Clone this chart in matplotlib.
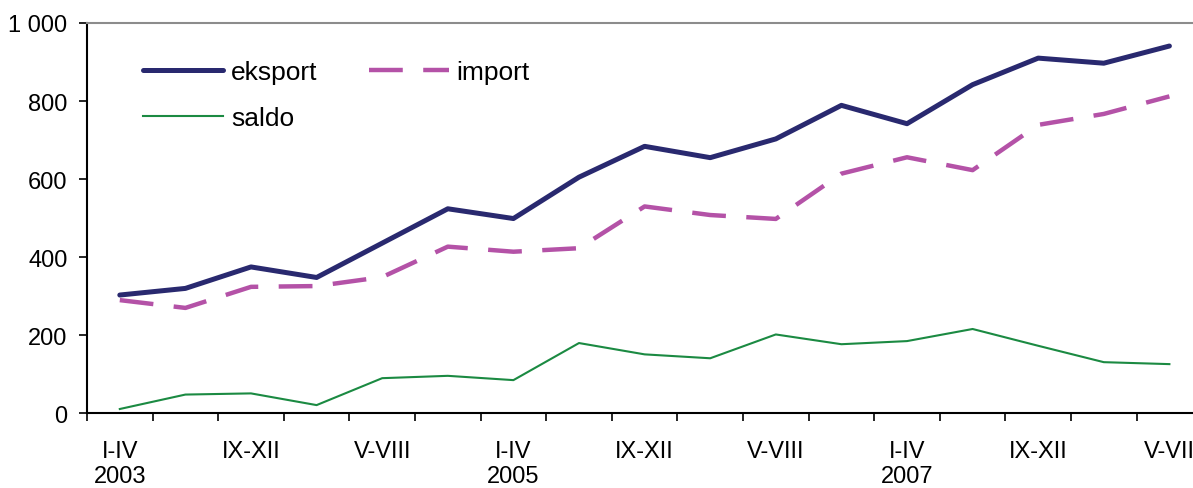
import matplotlib
matplotlib.use('Agg')
import matplotlib.pyplot as plt
import numpy as np
from matplotlib.ticker import FixedLocator, FuncFormatter

plt.rcParams['font.family'] = ['Liberation Sans', 'DejaVu Sans']

periods = ['I-IV\n2003', 'V-VIII', 'IX-XII',
           'I-IV\n2004', 'V-VIII', 'IX-XII',
           'I-IV\n2005', 'V-VIII', 'IX-XII',
           'I-IV\n2006', 'V-VIII', 'IX-XII',
           'I-IV\n2007', 'V-VIII', 'IX-XII',
           'I-IV\n2008', 'V-VII']

eksport = [303, 320, 375, 348, 436, 524, 499, 605, 684, 655, 703, 789, 742, 842, 910, 897, 941]
imp = [290, 270, 324, 326, 349, 427, 414, 423, 530, 508, 498, 614, 656, 623, 739, 767, 812]
saldo = [11, 48, 51, 21, 90, 96, 85, 180, 151, 141, 202, 177, 185, 216, 173, 131, 126]

x = np.arange(len(periods))

fig = plt.figure(figsize=(11.93, 4.89), dpi=100)
ax = fig.add_axes([87 / 1193, 74.7 / 489, 1 - 87 / 1193, 390.3 / 489])

l_eks, = ax.plot(x, eksport, color='#29296f', lw=3.6, solid_joinstyle='round',
                 solid_capstyle='round', label='eksport')
l_imp, = ax.plot(x, imp, color='#b452a7', lw=3.2, dashes=(7.6, 4.6), label='import')
l_sal, = ax.plot(x, saldo, color='#1b8a42', lw=1.5, label='saldo')

ax.set_ylim(0, 1000)
ax.set_xlim(-0.5, -0.5 + (1193 - 87) / 65.6)

ax.set_yticks([0, 200, 400, 600, 800, 1000])
ax.yaxis.set_major_formatter(FuncFormatter(lambda v, p: f'{v:,.0f}'.replace(',', ' ')))
ax.tick_params(axis='y', direction='out', length=6, width=1.2, pad=8, labelsize=17)

# ticks between categories, labels on every second category
ax.xaxis.set_major_locator(FixedLocator(np.arange(-0.5, len(periods) - 0.5, 1)))
ax.xaxis.set_major_formatter(FuncFormatter(lambda v, p: ''))
ax.xaxis.set_minor_locator(FixedLocator(x[::2]))
ax.set_xticklabels([periods[i] for i in x[::2]], minor=True)
ax.tick_params(axis='x', which='major', direction='out', length=6, width=1.2)
ax.tick_params(axis='x', which='minor', length=0, pad=19, labelsize=17)

for s in ['left', 'bottom']:
    ax.spines[s].set_linewidth(1.5)
    ax.spines[s].set_color('black')
ax.spines['top'].set_color('#8c8c8c')
ax.spines['top'].set_linewidth(1.5)
ax.spines['right'].set_visible(False)

leg = ax.legend([l_eks, l_sal, l_imp], ['eksport', 'saldo', 'import'],
                ncol=2, loc='upper left', bbox_to_anchor=(143 / 1193, 1 - 61 / 489),
                bbox_transform=fig.transFigure, frameon=False, fontsize=19,
                handlelength=3.05, handletextpad=0.28, columnspacing=1.95,
                labelspacing=0.85, borderpad=0, borderaxespad=0)

fig.savefig('out.png', dpi=100)
